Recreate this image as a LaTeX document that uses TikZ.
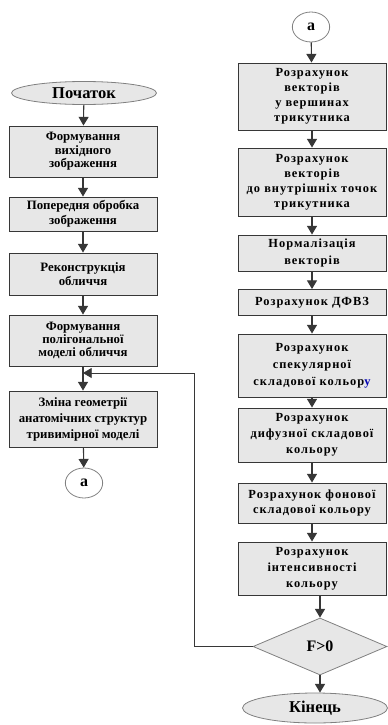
\documentclass[tikz,border=0pt]{standalone}
\usepackage{fontspec}
\setmainfont{Liberation Serif}
\newfontfamily\spacedfont[LetterSpace=8]{Liberation Serif}
\usetikzlibrary{shapes.geometric,arrows.meta}
\definecolor{boxgray}{RGB}{231,231,231}
\definecolor{linegray}{RGB}{55,55,55}

\begin{document}
\begin{tikzpicture}[x=0.75pt,y=-0.75pt,
 box/.style={draw=linegray,fill=boxgray,line width=0.7pt,inner sep=0pt,align=center,
  minimum width=111pt,font=\bfseries\fontsize{9.6}{10}\selectfont},
 linesep/.style={font=\bfseries\fontsize{9.6}{#1}\selectfont},
 rsep/.style={font=\spacedfont\bfseries\fontsize{9.3}{#1}\selectfont},
 term/.style={ellipse,draw=gray,fill=boxgray,line width=0.6pt,inner sep=0pt,
  minimum width=108.75pt,font=\bfseries\fontsize{12.4}{14}\selectfont},
 conn/.style={ellipse,draw=gray,fill=white,line width=0.6pt,inner sep=0pt,
  minimum width=28pt,minimum height=22.5pt,font=\bfseries\fontsize{12}{14}\selectfont},
 decide/.style={diamond,draw=gray,fill=boxgray,line width=0.6pt,inner sep=0pt,
  minimum width=100.5pt,minimum height=42.75pt,font=\bfseries\fontsize{12}{14}\selectfont},
 arr/.style={-{Triangle[width=7.5pt,length=6.5pt]},line width=0.8pt,draw=linegray}]
\useasboundingbox (0,0) rectangle (388,725);
 % left column
 \node[term,minimum height=17.25pt] (start) at (84,93) {Початок};
 \node[box,minimum height=38.25pt] (l1) at (83,151.5) {Формування\\ вихідного\\ зображення};
 \node[box,linesep=11pt,minimum height=25.5pt] (l2) at (83,214) {Попередня обробка\\ зображення};
 \node[box,linesep=11pt,minimum height=31.5pt] (l3) at (83,274) {Реконструкція\\ обличчя};
 \node[box,minimum height=38.25pt] (l4) at (83,340.5) {Формування\\ полігональної\\ моделі обличчя};
 \node[box,linesep=12pt,minimum height=42pt] (l5) at (83,419) {Зміна геометрії\\ анатомічних структур\\ тривимірної моделі};
 \node[conn] (outa) at (84,483) {а};
 \coordinate (join) at (83,373);
 %
 \draw[arr] (start) -- (l1);
 \draw[arr] (l1) -- (l2);
 \draw[arr] (l2) -- (l3);
 \draw[arr] (l3) -- (l4);
 \draw[arr] (l4) -- (l5);
 \draw[arr] (l5) -- (outa);
 %
 % right column
 \node[conn] (ina) at (311,27) {а};
 \node[box,rsep=11.2pt,minimum height=50.25pt] (r1) at (312,96.5) {Розрахунок\\ векторів\\ у вершинах\\ трикутника};
 \node[box,rsep=11.2pt,minimum height=51pt] (r2) at (312,182) {Розрахунок\\ векторів\\ до внутрішніх точок\\ трикутника};
 \node[box,rsep=12.5pt,minimum height=27pt] (r3) at (312,253) {Нормалізація\\ векторів};
 \node[box,rsep=12pt,minimum height=19.5pt] (r4) at (312,302.5) {Розрахунок ДФВЗ};
 \node[box,rsep=12.6pt,minimum height=47.25pt] (r5) at (312,365.5) {Розрахунок\\ спекулярної\\ складової кольор\textcolor{blue!70!black}{у}};
 \node[box,rsep=12.2pt,minimum height=40.5pt] (r6) at (312,435) {Розрахунок\\ дифузної складової\\ кольору};
 \node[box,rsep=11.3pt,minimum height=30pt] (r7) at (312,503) {Розрахунок фонової\\ складової кольору};
 \node[box,rsep=12pt,minimum height=39.75pt] (r8) at (312,568.5) {Розрахунок\\ інтенсивності\\ кольору};
 \node[decide] (cond) at (320,646.5) {F>0};
 \node[term,minimum height=22.5pt] (stop) at (315,708) {Кінець};
 \coordinate (back) at (194,646.5);
 %
 \draw[arr] (ina) -- (r1);
 \draw[arr] (r1) -- (r2);
 \draw[arr] (r2) -- (r3);
 \draw[arr] (r3) -- (r4);
 \draw[arr] (r4) -- (r5);
 \draw[arr] (r5) -- (r6);
 \draw[arr] (r6) -- (r7);
 \draw[arr] (r7) -- (r8);
 \draw[arr] (r8.south -| cond.north) -- (cond.north);
 \draw[arr] (cond.south) -- (cond.south |- stop.north);
 %
 \draw[arr,line width=0.6pt] (cond.west) -- (back) |- (join);
\end{tikzpicture}
\end{document}
